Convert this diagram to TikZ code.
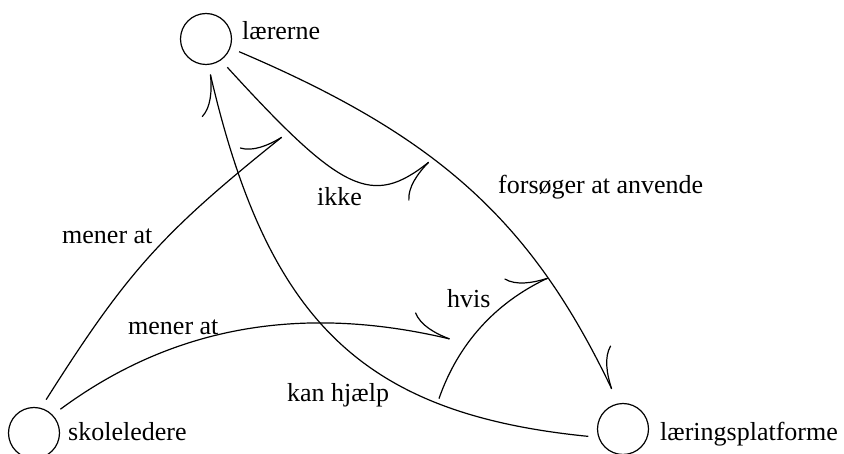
\documentclass[tikz,border=0pt]{standalone}
\usepackage{fontspec}
\setmainfont{Liberation Serif}
\usetikzlibrary{arrows.meta}
\begin{document}
\begin{tikzpicture}[x=1pt,y=-1pt,
  entity/.style={circle,draw,line width=1.2pt,minimum size=51pt,inner sep=0pt,outer sep=10pt},
  lbl/.style={anchor=base west,inner sep=0pt,font=\fontsize{26}{30}\selectfont},
  rel/.style={line width=1.2pt,-{Computer Modern Rightarrow[left,length=40pt,width=36pt]}},
  relr/.style={line width=1.2pt,-{Computer Modern Rightarrow[right,length=40pt,width=36pt]}},
]
\useasboundingbox (0,0) rectangle (844,454);
\clip (0,0) rectangle (844,454);
\node[entity] (L) at (206,39) {};
\node[entity] (S) at (34,433) {};
\node[entity] (P) at (623,429) {};
\node[lbl] (tL) at (242,40) {lærerne};
\node[lbl] (tS) at (68,441) {skoleledere};
\node[lbl] (tP) at (660,440) {læringsplatforme};
\node[lbl] (la) at (498,194) {forsøger at anvende};
\node[lbl] (lc) at (317,206) {ikke};
\node[lbl] (lb) at (62,244) {mener at};
\node[lbl] (lf) at (128,335) {mener at};
\node[lbl] (le) at (447,308) {hvis};
\node[lbl] (ld) at (287,402) {kan hjælp};
\coordinate (cT) at (429,162);
\coordinate (bT) at (282,137);
\coordinate (fT) at (450,339);
\coordinate (eT) at (548,278);
\draw[rel, shorten >=6pt] (L.339) .. controls (437,136) and (531,220) .. (P.104);
\draw[rel] (P.192) .. controls (363,414) and (268,322) .. (L.277) coordinate[pos=0.26] (eS);
\draw[relr] (L.307) .. controls (342,193) and (372,207) .. (cT);
\draw[rel] (S.70) .. controls (127,272) and (162,233) .. (bT);
\draw[rel] (S.42) .. controls (173,326) and (302,304) .. (fT);
\draw[rel, shorten <=5pt] (eS) .. controls (458,344) and (495,303) .. (eT);
\end{tikzpicture}
\end{document}
